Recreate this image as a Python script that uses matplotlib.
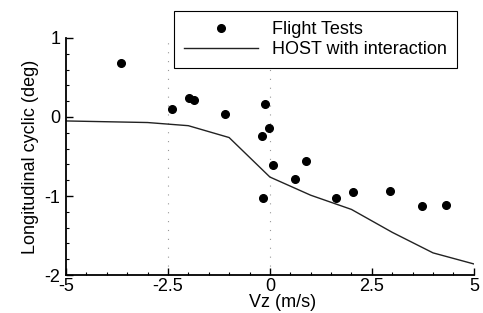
import matplotlib
matplotlib.use("Agg")
import matplotlib.pyplot as plt
from matplotlib.ticker import MultipleLocator

plt.rcParams['font.family'] = ['Liberation Sans', 'DejaVu Sans']

# Flight test data
flight_vz = [-3.65, -2.40, -1.98, -1.85, -1.10, -0.12, -0.02, -0.20, 0.07, 0.88, 0.61, -0.18, 1.63, 2.04, 2.94, 3.74, 4.33]
flight_cyc = [0.68, 0.10, 0.24, 0.21, 0.04, 0.16, -0.14, -0.24, -0.61, -0.56, -0.78, -1.03, -1.02, -0.95, -0.94, -1.13, -1.12]

# HOST with interaction
host_vz = [-5, -4, -3, -2, -1, 0, 1, 2, 3, 4, 5]
host_cyc = [-0.05, -0.06, -0.07, -0.11, -0.26, -0.76, -0.99, -1.17, -1.46, -1.72, -1.86]

fig = plt.figure(figsize=(4.83, 3.13), dpi=100)
ax = fig.add_axes([0.1366, 0.1214, 0.8444, 0.7572])

ax.plot(flight_vz, flight_cyc, 'o', color='black', markersize=5.5, label='Flight Tests')
ax.plot(host_vz, host_cyc, '-', color='#222222', linewidth=1.0, label='HOST with interaction')

ax.set_xlim(-5, 5)
ax.set_ylim(-2, 1)
ax.set_xticks([-5, -2.5, 0, 2.5, 5])
ax.set_xticklabels(['-5', '-2.5', '0', '2.5', '5'])
ax.set_yticks([-2, -1, 0, 1])
ax.set_yticklabels(['-2', '-1', '0', '1'])
ax.xaxis.set_minor_locator(MultipleLocator(0.5))
ax.yaxis.set_minor_locator(MultipleLocator(0.2))
ax.tick_params(axis='both', which='major', direction='in', length=5, width=1, labelsize=13)
ax.tick_params(axis='x', which='major', pad=2)
ax.tick_params(axis='y', which='major', pad=4)
ax.tick_params(axis='both', which='minor', direction='in', length=2.5, width=0.8)

for s in ['top', 'right']:
    ax.spines[s].set_visible(False)
for s in ['left', 'bottom']:
    ax.spines[s].set_linewidth(1.3)

for xv in [-2.5, 0]:
    ax.axvline(xv, color='#999999', linestyle=(0, (1, 7)), linewidth=0.8, zorder=0)

ax.set_xlabel('Vz (m/s)', fontsize=13)
ax.xaxis.set_label_coords((283 - 66) / 408, -0.08)
ax.set_ylabel('Longitudinal cyclic (deg)', fontsize=13, labelpad=4)

leg = fig.legend(loc='upper right', bbox_to_anchor=(0.946, 0.965), fontsize=13,
                 frameon=True, fancybox=False, edgecolor='black', framealpha=1,
                 borderpad=0.55, handlelength=4.1, handletextpad=0.8, labelspacing=0.2,
                 borderaxespad=0)
leg.get_frame().set_linewidth(0.8)

fig.savefig('out.png', dpi=100)
